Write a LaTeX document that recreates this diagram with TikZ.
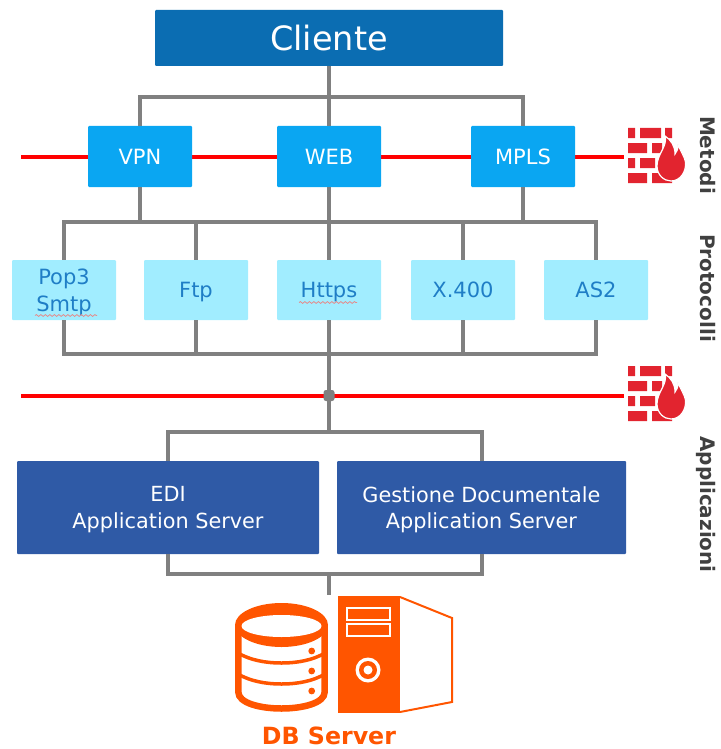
\documentclass[tikz,border=0pt]{standalone}
\usepackage{fontspec}
\setmainfont{DejaVu Sans}
\usetikzlibrary{decorations.pathmorphing}
\begin{document}
\begin{tikzpicture}[x=1pt,y=-1pt, line width=0.7pt,
    txt/.style={font=\fontsize{21}{26.5}\selectfont, align=center, inner sep=0pt, text depth=0pt, rounded corners=1pt},
    metodobox/.style={txt, fill=metodocolor, text=white, minimum width=104pt, minimum height=61pt},
    protobox/.style={txt, fill=protocolor, text=prototext, minimum width=104pt, minimum height=60pt},
    appbox/.style={txt, fill=appcolor, text=white, minimum height=93pt, font=\fontsize{20.8}{26.5}\selectfont},
    bus/.style={draw=busgray, line width=4pt},
    redline/.style={draw=red, line width=3.5pt},
    sidelabel/.style={rotate=-90, font=\fontsize{20}{22}\selectfont\bfseries, text=black!75, inner sep=0pt, text depth=0pt},
    squiggle/.style={draw=squigcolor, line width=0.8pt, decorate, decoration={snake, amplitude=0.9pt, segment length=4.5pt}},
    orangeline/.style={draw=dbcolor, line width=6.5pt}]
    \definecolor{clientecolor}{HTML}{0B6DB2}
    \definecolor{metodocolor}{HTML}{0AA6F2}
    \definecolor{protocolor}{HTML}{A1EDFF}
    \definecolor{prototext}{HTML}{1F7EC6}
    \definecolor{appcolor}{HTML}{2F5AA6}
    \definecolor{busgray}{HTML}{808080}
    \definecolor{squigcolor}{HTML}{E58A8A}
    \definecolor{dbcolor}{HTML}{FF5500}
    \definecolor{fwcolor}{HTML}{E2242F}

    \useasboundingbox (0,0) rectangle (720,749);

    % red lines go under the boxes
    \coordinate (redAleft) at (21,157);
    \coordinate (redAright) at (624,157);
    \coordinate (redBleft) at (21,396);
    \coordinate (redBright) at (624,396);
    \draw[redline] (redAleft) -- (redAright);
    \draw[redline] (redBleft) -- (redBright);

    \node[txt, fill=clientecolor, text=white, minimum width=348pt, minimum height=56pt, font=\fontsize{33.5}{36}\selectfont] (cliente) at (329,38) {Cliente};

    \node[metodobox] (vpn) at (140,156.5) {VPN};
    \node[metodobox] (web) at (329,156.5) {WEB};
    \node[metodobox] (mpls) at (523,156.5) {MPLS};

    \node[protobox] (pop) at (64,290) {Pop3\\Smtp};
    \node[protobox] (ftp) at (196,290) {Ftp};
    \node[protobox] (https) at (329,290) {Https};
    \node[protobox] (xfour) at (463,290) {X.400};
    \node[protobox] (astwo) at (596,290) {AS2};

    \node[appbox, minimum width=302pt] (edi) at (168,507.5) {EDI\\Application Server};
    \node[appbox, minimum width=289pt] (gest) at (481.5,507.5) {Gestione Documentale\\Application Server};

    \coordinate (topbus) at (329,97);
    \coordinate (midbus) at (329,222);
    \coordinate (lowbus) at (329,354);
    \coordinate (appbus) at (329,432);
    \coordinate (dbbus) at (329,574);
    \coordinate (dbend) at (329,595);

    \draw[bus] (cliente) -- (web);
    \draw[bus] (vpn) |- (topbus) -| (mpls);
    \draw[bus] (web) -- (https);
    \draw[bus] (pop) |- (midbus) -| (astwo);
    \draw[bus] (vpn) -- (vpn |- midbus);
    \draw[bus] (mpls) -- (mpls |- midbus);
    \draw[bus] (ftp) -- (ftp |- midbus);
    \draw[bus] (xfour) -- (xfour |- midbus);
    \draw[bus] (pop) |- (lowbus) -| (astwo);
    \draw[bus] (ftp) -- (ftp |- lowbus);
    \draw[bus] (xfour) -- (xfour |- lowbus);
    \draw[bus] (https) -- (appbus);
    \draw[bus] (edi) |- (appbus) -| (gest);
    \draw[bus] (edi) |- (dbbus) -| (gest);
    \draw[bus] (dbbus) -- (dbend);
    \node[fill=busgray, rounded corners=2.5pt, minimum size=11pt, inner sep=0pt] (hub) at (329,395.5) {};

    \draw[squiggle] (35,315.5) -- (97,315.5);
    \draw[squiggle] (299,302.5) -- (357,302.5);

    \foreach \fwy in {128,366} {
    \begin{scope}[shift={(628,\fwy)}]
        \fill[fwcolor] (0,0) rectangle (7,10) (12,0) rectangle (33,10) (37,0) rectangle (44,10);
        \fill[fwcolor] (0,15) rectangle (19,25) (24,15) rectangle (34,25);
        \fill[fwcolor] (0,30) rectangle (7,40) (12,30) rectangle (27,40);
        \fill[fwcolor] (0,45) rectangle (19,55) (24,45) rectangle (44,55);
        % flame
        \fill[fwcolor, draw=white, line width=1.2pt] (37,8) .. controls (40,18) and (29,26) .. (29,38)
            .. controls (29,47) and (36,53) .. (43,53)
            .. controls (52,53) and (58.5,44) .. (57.5,34)
            .. controls (56.5,28) and (52,23) .. (50,16)
            .. controls (50,21) and (49,24) .. (47,26)
            .. controls (47,18) and (43,12) .. (37,8) -- cycle;
    \end{scope}
    }

    \node[sidelabel] (metodi) at (708,155) {Metodi};
    \node[sidelabel] (protocolli) at (708,288) {Protocolli};
    \node[sidelabel] (applicazioni) at (708,504.5) {Applicazioni};

    % database
    \draw[orangeline] (238.3,626) -- (238.3,692) .. controls (238.3,703) and (260,708.5) .. (281.5,708.5)
        .. controls (303,708.5) and (324.7,703) .. (324.7,692) -- (324.7,626);
    \foreach \dby in {653,674} {
        \draw[draw=dbcolor, line width=3.5pt] (238,\dby) .. controls (250,\dby+7) and (265,\dby+10) .. (281.5,\dby+10)
            .. controls (298,\dby+10) and (313,\dby+7) .. (325,\dby);
    }
    \fill[dbcolor] (281.5,625) ellipse (46.5 and 22);
    \fill[white] (281.5,626) ellipse (40 and 11);
    \foreach \dby in {651,671,691} {
        \fill[dbcolor] (311.7,\dby) circle (3.4);
    }

    % server tower
    \fill[dbcolor] (338,596) rectangle (400,713);
    \draw[draw=dbcolor, line width=2pt] (400,597) -- (452,618) -- (452,702) -- (400,712);
    \foreach \sly in {608,624} {
        \draw[draw=white, line width=2pt] (346.5,\sly) rectangle (389.5,\sly+11.5);
    }
    \fill[white] (368,670) circle (12.5);
    \fill[dbcolor] (368,670) circle (9);
    \fill[white] (368,670) circle (4.5);

    \node[font=\fontsize{23.7}{25}\selectfont\bfseries, text=dbcolor, inner sep=0pt] (dbserver) at (329,736) {DB Server};
\end{tikzpicture}
\end{document}
